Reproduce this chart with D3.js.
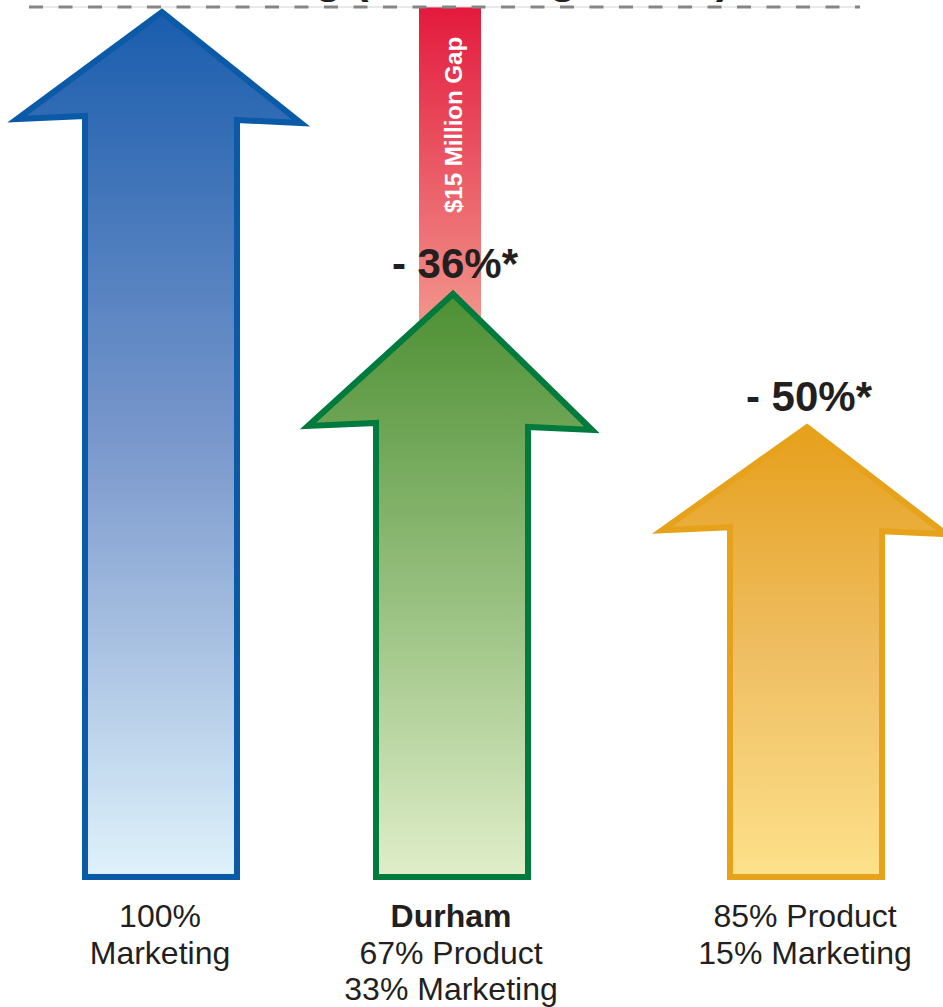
<!DOCTYPE html>
<html>
<head>
<meta charset="utf-8">
<script src="https://cdn.jsdelivr.net/npm/d3@7"></script>
<style>
  html, body { margin: 0; padding: 0; background: #fff; }
  svg { display: block; font-family: "Liberation Sans", Arial, Helvetica, sans-serif; }
</style>
</head>
<body>
<div id="chart"></div>
<script>
// data
const categories = ["Marketing", "Durham", "Product"];
const values = [100, 67.4, 52.0];
const changeLabels = [null, "- 36%*", "- 50%*"];
const labelLines = [
    ["100%", "Marketing"],
    ["Durham", "67% Product", "33% Marketing"],
    ["85% Product", "15% Marketing"]
];
const boldFirstLine = [false, true, false];
const gapRange = [100, 60];
const gapLabel = "$15 Million Gap";
const titleText = "Destination Funding (Marketing Model)";

const width = 943, height = 1007;

const svg = d3.select("#chart").append("svg")
    .attr("width", width)
    .attr("height", height)
    .attr("viewBox", `0 0 ${width} ${height}`);

const defs = svg.append("defs");

const x = d3.scaleOrdinal()
    .domain(categories)
    .range([161, 452, 806]);

const y = d3.scaleLinear()
    .domain([0, 100])
    .range([877, 12]);

const fills = [
    ["#1a5dad", "#7a98cc", "#dff2fb"],
    ["#4d8f33", "#94be7c", "#e0eec9"],
    ["#e6a01c", "#efbe62", "#fde18b"]
];
const strokes = ["#0a5aa8", "#007a3d", "#e6a21a"];
const headDepth = [105, 130, 101];
const shaftHalf = 76, headLeft = 144, headRight = 140;

fills.forEach((f, i) => {
    const grad = defs.append("linearGradient")
        .attr("id", "grad" + i)
        .attr("x1", 0).attr("y1", 0).attr("x2", 0).attr("y2", 1);
    grad.append("stop").attr("offset", "0%").attr("stop-color", f[0]);
    grad.append("stop").attr("offset", "50%").attr("stop-color", f[1]);
    grad.append("stop").attr("offset", "100%").attr("stop-color", f[2]);
});

const redGrad = defs.append("linearGradient")
    .attr("id", "gradRed")
    .attr("x1", 0).attr("y1", 0).attr("x2", 0).attr("y2", 1);
redGrad.append("stop").attr("offset", "0%").attr("stop-color", "#e31a3d");
redGrad.append("stop").attr("offset", "100%").attr("stop-color", "#f3a394");

// title sits above the top edge; only its descenders show
const title = svg.append("text")
    .attr("y", -7)
    .style("font-size", "44px")
    .style("font-weight", "bold")
    .attr("fill", "#231f20")
    .text(titleText);
const parenIdx = titleText.indexOf("(");
const preLen = title.node().getSubStringLength(0, parenIdx);
title.attr("x", 354 - preLen);

// red gap bar
const gx = x("Durham") - 2;
svg.append("rect")
    .attr("x", gx - 31)
    .attr("y", y(gapRange[0]) - 5)
    .attr("width", 62)
    .attr("height", y(gapRange[1]) - y(gapRange[0]) + 5)
    .attr("fill", "url(#gradRed)");

svg.append("text")
    .attr("transform", `translate(${gx + 12}, ${213}) rotate(-90)`)
    .attr("text-anchor", "start")
    .style("font-size", "24px")
    .style("font-weight", "bold")
    .attr("fill", "#fff")
    .text(gapLabel);

// reference line at 100%
svg.append("line")
    .attr("x1", 29).attr("x2", 860)
    .attr("y1", y(100) - 5).attr("y2", y(100) - 5)
    .attr("stroke", "#d4d4d4")
    .attr("stroke-width", 1);
svg.append("line")
    .attr("x1", 29).attr("x2", 860)
    .attr("y1", y(100) - 5).attr("y2", y(100) - 5)
    .attr("stroke", "#858585")
    .attr("stroke-width", 3)
    .attr("stroke-dasharray", "14,15.5");

// arrows
function arrowPath(i) {
    const cx = x(categories[i]);
    const tip = y(values[i]);
    const base = y(0);
    const d = headDepth[i];
    return [
        [cx + 1, tip],
        [cx + headRight, tip + d + 6],
        [cx + shaftHalf, tip + d + 3],
        [cx + shaftHalf, base],
        [cx - shaftHalf, base],
        [cx - shaftHalf, tip + d - 1],
        [cx - headLeft, tip + d + 2]
    ];
}

svg.selectAll(".arrow")
    .data(categories)
    .enter()
    .append("path")
    .attr("class", "arrow")
    .attr("d", (d, i) => d3.line()(arrowPath(i)) + "Z")
    .attr("fill", (d, i) => `url(#grad${i})`)
    .attr("stroke", (d, i) => strokes[i])
    .attr("stroke-width", 6)
    .attr("stroke-linejoin", "miter");

// change labels
svg.selectAll(".change")
    .data(categories.filter((d, i) => changeLabels[i]))
    .enter()
    .append("text")
    .attr("class", "change")
    .attr("x", d => x(d) + 3)
    .attr("y", d => y(values[categories.indexOf(d)]) - 16)
    .attr("text-anchor", "middle")
    .style("font-size", "42px")
    .style("font-weight", "bold")
    .attr("fill", "#231f20")
    .text(d => changeLabels[categories.indexOf(d)]);

// bottom labels
categories.forEach((cat, i) => {
    const t = svg.append("text")
        .attr("text-anchor", "middle")
        .style("font-size", "32px")
        .attr("fill", "#231f20");
    labelLines[i].forEach((line, j) => {
        t.append("tspan")
            .attr("x", x(cat) - 1)
            .attr("y", 927 + j * 36.5)
            .style("font-weight", boldFirstLine[i] && j === 0 ? "bold" : "normal")
            .text(line);
    });
});
</script>
</body>
</html>
